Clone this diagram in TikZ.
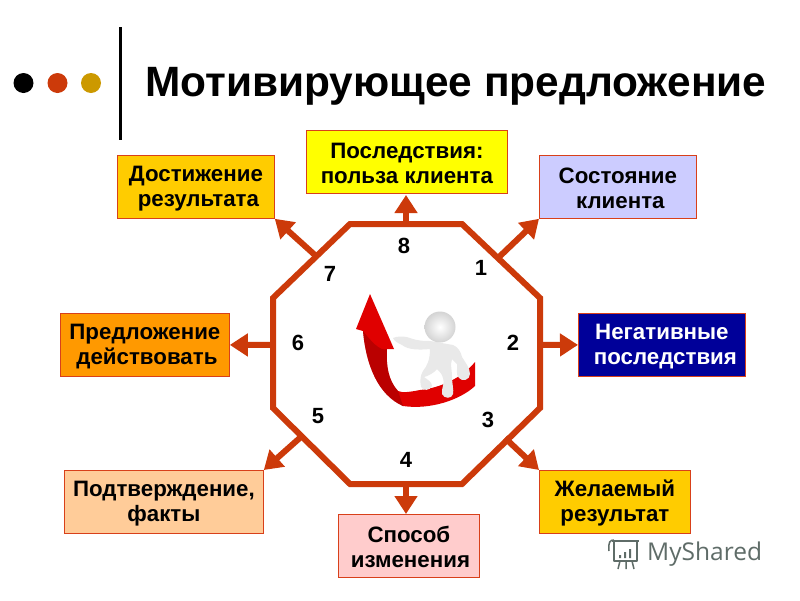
\documentclass[tikz,border=0pt]{standalone}
\usepackage{fontspec}
\setmainfont{Liberation Sans}
\newfontfamily\wmfont{Open Sans}
\usetikzlibrary{arrows.meta,calc}
\definecolor{ringc}{HTML}{CC3A0A}
\definecolor{edgec}{HTML}{D8401A}
\definecolor{goldc}{HTML}{CC9900}
\definecolor{wmc}{HTML}{5F6C68}
\definecolor{skinc}{HTML}{E9E9E9}
\newcommand{\dnl}{\rule{0pt}{18pt}}
\tikzset{
 box/.style={draw=edgec,line width=0.8pt,minimum height=63pt,anchor=north west,align=center,inner sep=0pt,font=\fontsize{22.3}{25}\selectfont\bfseries},
 num/.style={font=\fontsize{22}{24}\selectfont\bfseries,inner sep=0pt},
 conn/.style={draw=ringc,line width=6pt,-{Triangle[length=18pt,width=22pt]}},
 ring/.style={draw=ringc,line width=6pt,line join=miter},
 dot/.style={circle,inner sep=0pt,minimum size=20pt}
}
\begin{document}
\begin{tikzpicture}[x=1pt,y=-1pt]
\useasboundingbox[fill=white] (0,0) rectangle (800,600);
% header
\node[dot,fill=black] (d1) at (23.5,83) {};
\node[dot,fill=ringc] (d2) at (57.5,83) {};
\node[dot,fill=goldc] (d3) at (91,83) {};
\fill[black] (118.5,27) rectangle (121.5,140);
\node[anchor=west,inner sep=0pt,font=\fontsize{42.4}{48}\selectfont\bfseries] (title) at (145,86) {Мотивирующее предложение};
% octagon
\draw[ring] (350,224) -- (462,224) -- (540,298) -- (540,408) -- (462,484) -- (350,484) -- (273,408) -- (273,298) -- cycle;
\coordinate (o8) at (406,224);
\coordinate (o1) at (498,258);
\coordinate (o2) at (540,345);
\coordinate (o3) at (505,438);
\coordinate (o4) at (406,484);
\coordinate (o5) at (302,436);
\coordinate (o6) at (273,345);
\coordinate (o7) at (316,256);
% boxes
\node[box,fill={rgb,255:red,255;green,204;blue,0},minimum width=157pt] (b7) at (117,155) {\dnl Достижение\\\hspace{5pt}результата};
\node[box,fill={rgb,255:red,255;green,255;blue,0},minimum width=201pt] (b8) at (306,130) {\dnl Последствия:\\польза клиента};
\node[box,fill={rgb,255:red,204;green,204;blue,255},minimum width=157pt] (b1) at (539,155) {\dnl Состояние\\\hspace{5pt}клиента};
\node[box,fill={rgb,255:red,0;green,0;blue,153},text=white,minimum width=167pt] (b2) at (578,313) {\dnl Негативные\\\hspace{7pt}последствия};
\node[box,fill={rgb,255:red,255;green,204;blue,0},minimum width=151pt] (b3) at (539,470) {\dnl Желаемый\\результат};
\node[box,fill={rgb,255:red,255;green,204;blue,204},minimum width=141pt] (b4) at (338,514) {\dnl Способ\\\hspace{3pt}изменения};
\node[box,fill={rgb,255:red,255;green,204;blue,153},minimum width=199pt] (b5) at (64,470) {\dnl Подтверждение,\\факты};
\node[box,fill={rgb,255:red,255;green,153;blue,0},minimum width=169pt] (b6) at (60,313) {\dnl Предложение\\\hspace{4pt}действовать};
% connectors
\draw[conn] (o8) -- (406,195);
\draw[conn] (o1) -- (b1.south west);
\draw[conn] (o2) -- (b2.west);
\draw[conn] (o3) -- (b3.north west);
\draw[conn] (o4) -- (406,514);
\draw[conn] (o5) -- (b5.north east);
\draw[conn] (o6) -- (b6.east);
\draw[conn] (o7) -- (b7.south east);
% numbers
\node[num] (n1) at (481,268) {1};
\node[num] (n2) at (513,343) {2};
\node[num] (n3) at (488,420) {3};
\node[num] (n4) at (406,460) {4};
\node[num] (n5) at (318,416) {5};
\node[num] (n6) at (298,343) {6};
\node[num] (n7) at (330,274) {7};
\node[num] (n8) at (404,246) {8};
% red arrow
\fill[red!88!black] (370,294) -- (356,329) -- (363,331)
  .. controls (366,365) and (378,395) .. (403,406)
  .. controls (430,410) and (460,400) .. (475,386)
  -- (475,362)
  .. controls (462,378) and (440,388) .. (420,390)
  .. controls (410,392) and (402,393) .. (398,391)
  .. controls (388,380) and (386,365) .. (387,349)
  -- (394,349) -- cycle;
\fill[red!55!black,opacity=.45] (363,331)
  .. controls (366,365) and (378,395) .. (403,406)
  -- (398,391)
  .. controls (388,380) and (386,365) .. (387,349)
  .. controls (380,352) and (370,340) .. (363,331) -- cycle;
% figure
\fill[skinc] (393,338) .. controls (396,336) and (406,336) .. (410,338)
  .. controls (418,341) and (424,341) .. (430,341)
  -- (453,345)
  .. controls (458,347) and (461,352) .. (462,357)
  .. controls (465,362) and (470,368) .. (470,374)
  .. controls (470,380) and (462,382) .. (459,378)
  .. controls (455,374) and (458,368) .. (457,364)
  -- (452,359)
  .. controls (450,365) and (452,370) .. (452,376)
  .. controls (452,384) and (454,390) .. (453,394)
  .. controls (452,399) and (444,399) .. (442,394)
  .. controls (441,388) and (445,385) .. (443,378)
  .. controls (442,374) and (440,372) .. (437,369)
  .. controls (434,373) and (428,376) .. (424,377)
  .. controls (428,380) and (432,382) .. (432,386)
  .. controls (430,391) and (423,391) .. (421,387)
  .. controls (420,381) and (420,376) .. (423,371)
  .. controls (427,366) and (430,360) .. (430,349)
  .. controls (420,350) and (408,350) .. (402,345)
  .. controls (398,343) and (394,341) .. (393,338) -- cycle;
\shade[inner color=white,outer color=black!17] (440,327) circle (15.5pt);
% watermark
\node[anchor=west,inner sep=0pt,text=wmc,font=\wmfont\fontsize{24.5}{30}\selectfont] (wm) at (647,554) {MyShared};
\draw[wmc,line width=1.5pt,line join=round] (612,541) -- (639,541) (614,541) rectangle (637,561);
\draw[wmc,line width=1.5pt] (609,551) .. controls (608,542) and (610,540) .. (614,540) (620,561) -- (618,569) (626,561) -- (626,569) (632,561) -- (634,569);
\fill[wmc] (619,555) rectangle (621,558) (624,552) rectangle (626,558) (629,549) rectangle (631,558);
\end{tikzpicture}
\end{document}
